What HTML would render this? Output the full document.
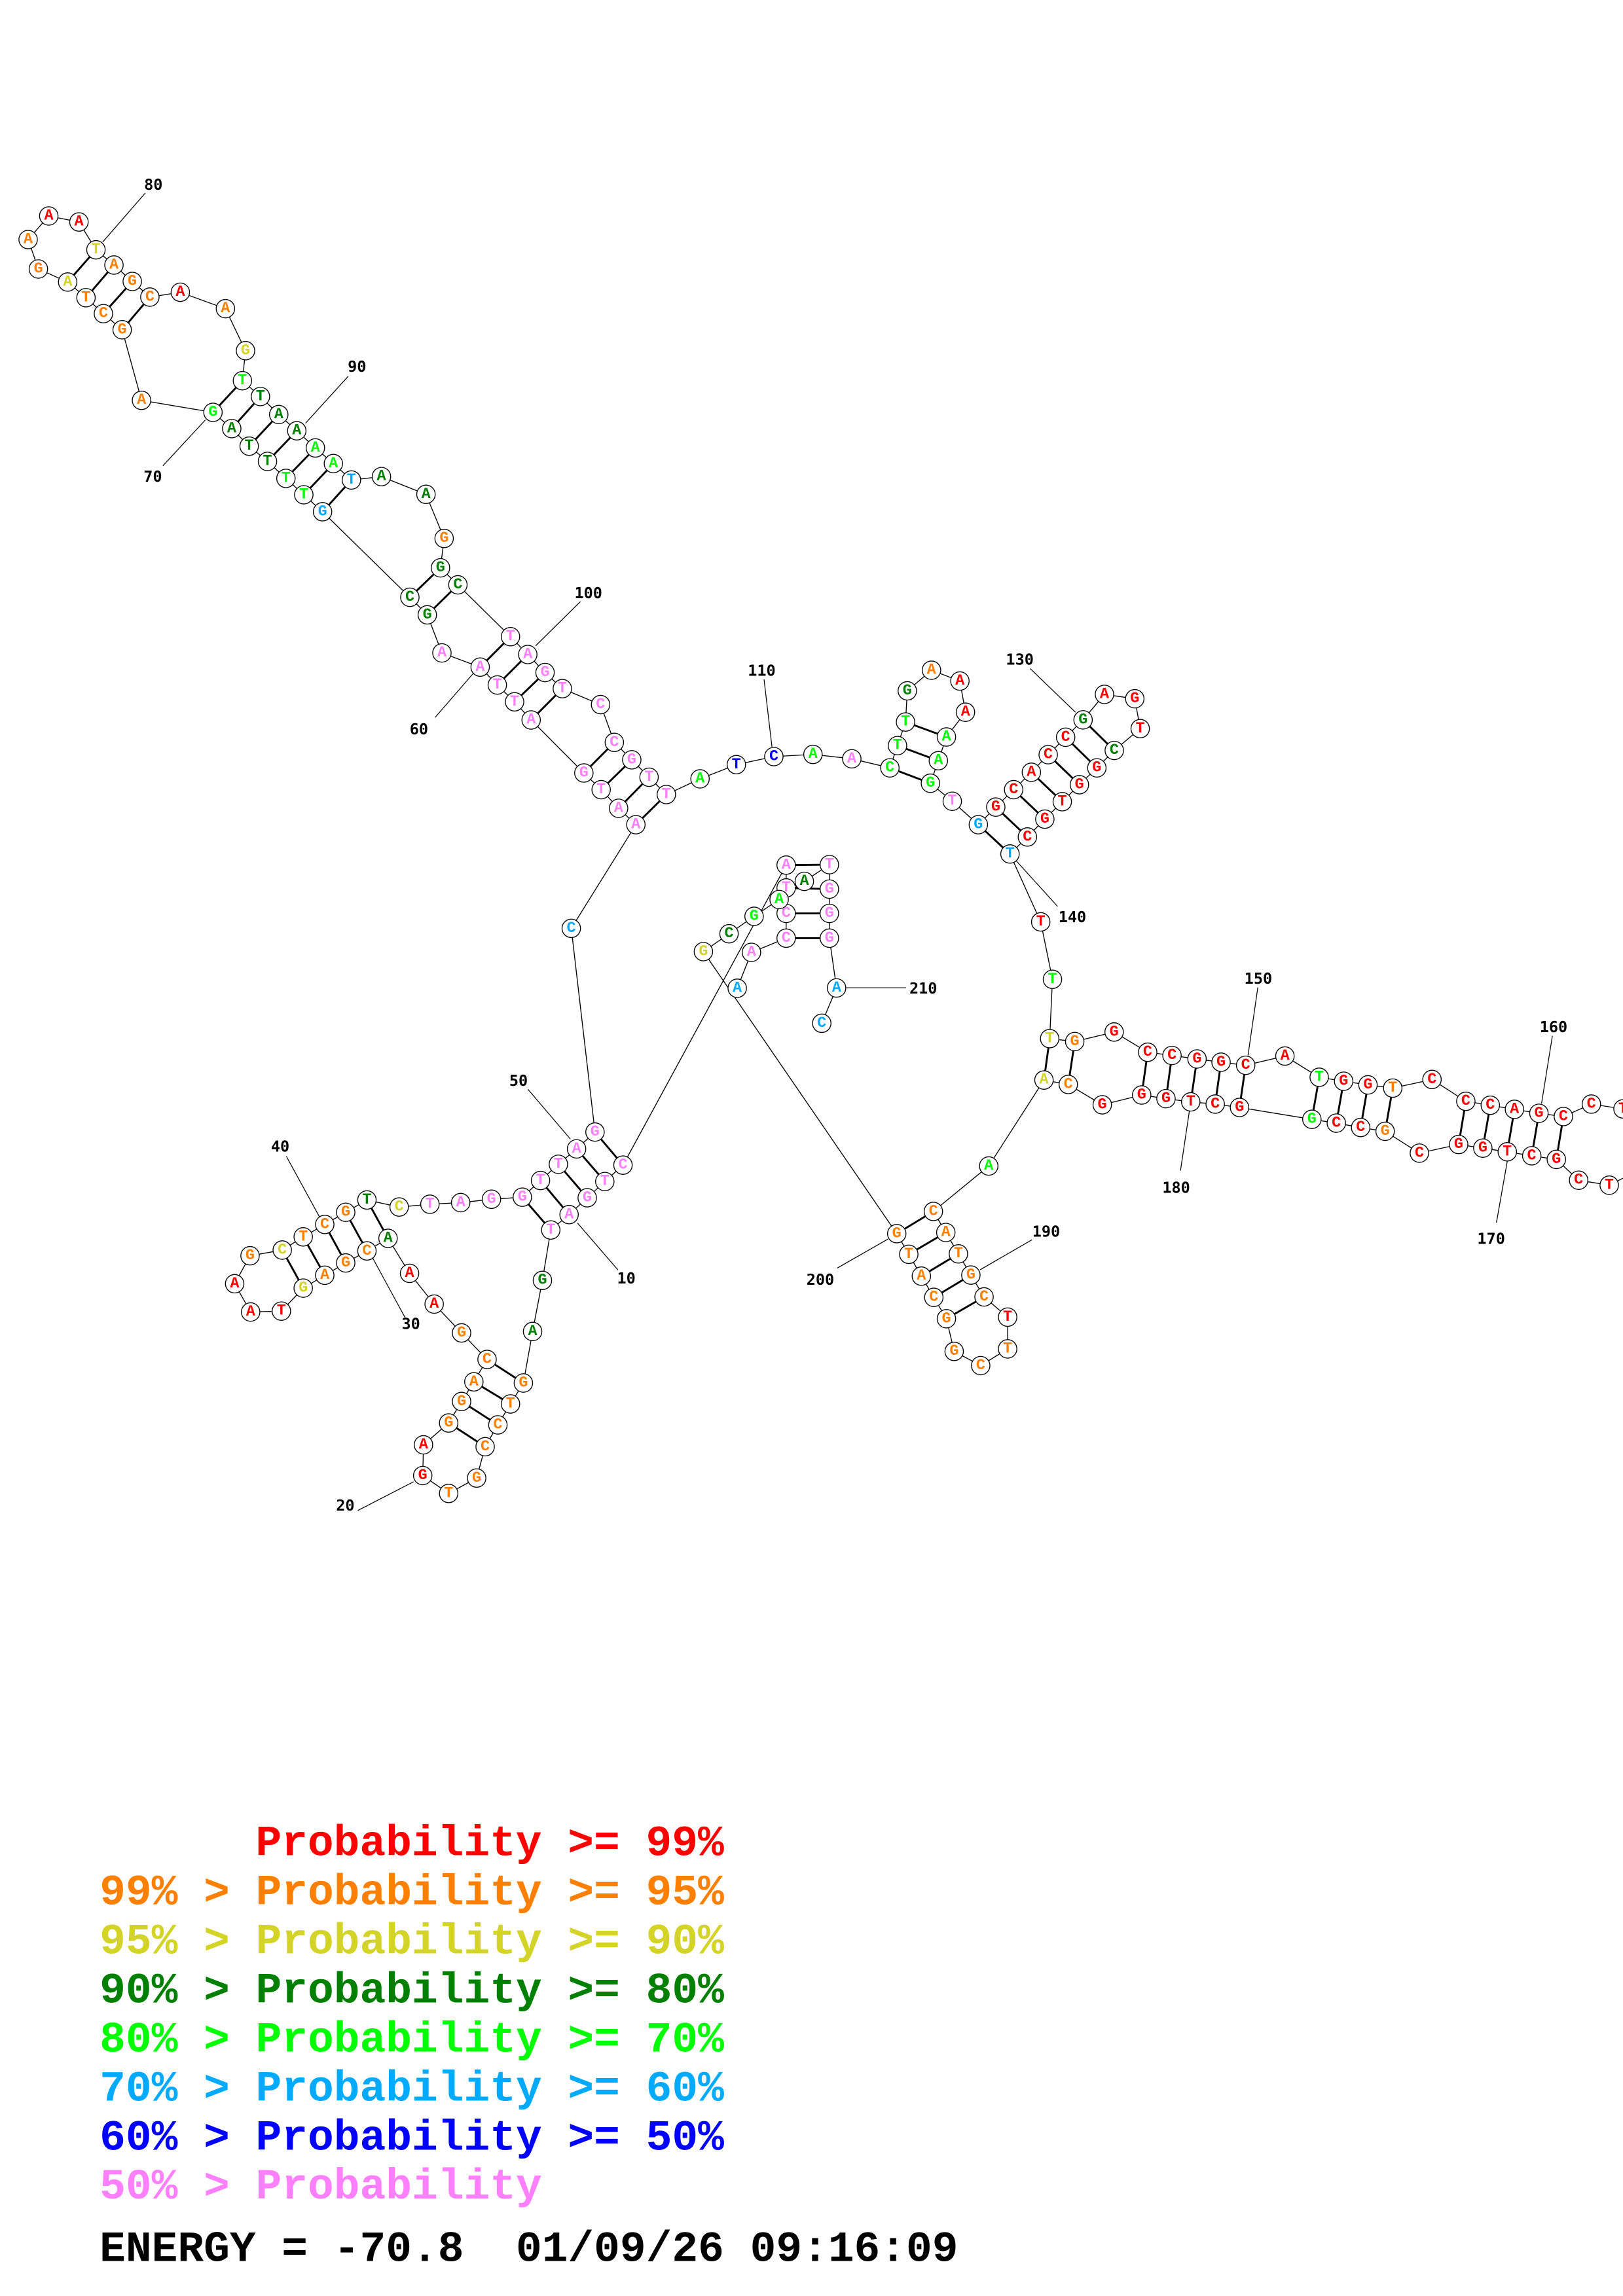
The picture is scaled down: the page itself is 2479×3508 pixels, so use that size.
<!DOCTYPE html>
<html><head><meta charset="utf-8">
<style>
html,body{margin:0;padding:0;background:#fff;overflow:hidden;}
svg{display:block;}
.bb{fill:none;stroke:#000;stroke-width:0.6;}
.pr line{stroke:#000;stroke-width:1.3;}
.lb line{stroke:#000;stroke-width:0.55;}
.nd circle{fill:#fff;stroke:#000;stroke-width:0.6;}
.nd text{font-family:"Liberation Mono",monospace;font-weight:bold;font-size:10.5px;text-anchor:middle;dominant-baseline:central;}
.lt{font-family:"DejaVu Sans Mono","Liberation Mono",monospace;font-weight:bold;font-size:10.5px;text-anchor:middle;dominant-baseline:central;fill:#000;}
.lg{font-family:"Liberation Mono",monospace;font-weight:bold;font-size:29.6px;}
.R{fill:#ff0000}.O{fill:#ff8000}.Y{fill:#d4d428}.D{fill:#008000}.G{fill:#00ff00}.B{fill:#00aaff}.N{fill:#0000ff}.P{fill:#ff80ff}.K{fill:#000}
</style></head><body>
<svg width="2479" height="3508" viewBox="0 0 1108 1568" preserveAspectRatio="none" xmlns="http://www.w3.org/2000/svg">
<rect width="1108" height="1568" fill="#fff"/>
<polyline class="bb" points="503.3,674.9 513,650.4 536.7,640.7 536.7,623.8 536.7,606.4 536.7,590.8 425.3,795.7 412.9,806.9 400.9,818 388.5,829.5 376,840 370.3,874.4 363.6,909.3 357.3,944.5 348.5,958.8 339.9,973.1 331.2,988 325.4,1009.4 306.3,1019.9 288.6,1007.7 289.1,986.7 306.3,971.8 315.1,957.1 323.5,943.7 332.5,928.4 315.1,910.3 296.4,890.6 279.6,869.6 264.9,845.7 250.5,854.3 236,862.5 221.7,870.9 207,879.7 192.1,895.4 171.1,896 160.2,876.7 170.7,857.6 192.7,853.7 207,844.7 221.7,836.2 236,827.9 250.5,819.5 272.5,824.3 293.5,822.4 314.5,821.3 335.5,819 356.6,817.6 369,806.2 381.2,795.1 393.6,784.6 406.2,773.1 390,634 434.1,563.2 422.3,552 410.4,539.3 398.6,527.9 362.6,491.7 351.3,479.3 339.5,467.8 327.8,455.6 301.7,445.9 291.7,419.9 279.8,407.9 220.2,349.5 207.4,337.9 195.2,326.7 182.6,315.1 170.1,304.7 158.2,292.7 145.4,281.6 96.6,273.4 83.4,225.2 70.6,214.2 58.7,203.3 46.2,192.6 26.2,183.7 19.2,163.6 33.3,147.5 53.9,151.6 65.5,170.6 77.8,181 90.3,192.2 102.3,202.9 123.1,199.6 153.9,210.8 167.6,239.5 165.5,260 177.8,270.8 190.3,283.1 202.6,294.2 215.3,305.9 227.6,316.6 239.9,327.8 260.4,325.5 290.8,337.6 303.2,367.7 300.7,387.8 312.6,399.4 348.5,434.8 360.3,447 372.1,459.3 383.9,470.3 410,481.2 419.4,507 431.3,518.9 443.1,530.8 454.9,542.6 477.9,531.9 502.7,522.2 528.3,516.7 555,515.2 581.5,518.2 607.5,524.4 612.7,509.2 618.2,493.1 619.4,471.8 635.9,457.7 655.3,465.1 659.1,486.4 646.1,503.3 640.6,519.5 635.2,534.9 650.1,547.2 667.9,563.2 679.8,551.2 692,539.3 704.1,527.4 715.6,515.4 727.5,503.5 739.4,491.6 754,474.2 774.7,477.2 778.4,497.6 760.7,512.5 748.8,524.4 736.9,535.9 725.2,547.5 713.3,559.4 701.4,571.6 689.5,583.2 710.5,629.6 718.5,668.8 716.6,709.3 733.7,711.3 760.6,704.8 783.5,718.6 800.1,720.8 817.2,723.2 833.6,725.4 850.4,727.5 877.2,721.2 900.6,735.7 917.3,738.4 933.9,740.9 950.8,743.1 977.6,737.2 1000.7,752.1 1017.4,754.8 1033.9,757.6 1050.6,760.3 1067.3,762.5 1086.4,754 1108,757.3 1125,772 1117,800 1098.6,809.4 1077.7,806 1062.5,791.8 1045.7,789.3 1029,786.6 1012.3,784.1 995.8,781.6 969,787.5 945.6,772.6 928.9,770 912.3,767 895.6,764.4 846.2,756.3 829.6,754 812.9,752.5 796,750.3 779.4,747.8 752.5,754.5 729.3,740.6 712.7,737.6 675,796.3 637.2,827.3 645.7,841.7 654.3,856.3 662.8,870.8 671.8,885.7 687.9,899.5 687.9,921.2 669.5,932.6 651.4,922.9 646.1,900.6 637.5,886 629,871.5 620.4,856.6 612.2,842.5 480.2,649.9 497.7,637.7 514.8,625.8 531.9,614.3 549.1,601.9 566.2,590.5 566.2,607.2 566.2,623.8 566.2,640.7 571.1,674.7 561,698.8"/>
<g class="pr">
<line x1="536.7" y1="640.7" x2="566.2" y2="640.7"/><line x1="536.7" y1="623.8" x2="566.2" y2="623.8"/><line x1="536.7" y1="606.4" x2="566.2" y2="607.2"/><line x1="536.7" y1="590.8" x2="566.2" y2="590.5"/>
<line x1="425.3" y1="795.7" x2="406.2" y2="773.1"/><line x1="412.9" y1="806.9" x2="393.6" y2="784.6"/><line x1="400.9" y1="818" x2="381.2" y2="795.1"/><line x1="388.5" y1="829.5" x2="369" y2="806.2"/><line x1="376" y1="840" x2="356.6" y2="817.6"/>
<line x1="357.3" y1="944.5" x2="332.5" y2="928.4"/><line x1="348.5" y1="958.8" x2="323.5" y2="943.7"/><line x1="339.9" y1="973.1" x2="315.1" y2="957.1"/><line x1="331.2" y1="988" x2="306.3" y2="971.8"/>
<line x1="264.9" y1="845.7" x2="250.5" y2="819.5"/><line x1="250.5" y1="854.3" x2="236" y2="827.9"/><line x1="236" y1="862.5" x2="221.7" y2="836.2"/><line x1="221.7" y1="870.9" x2="207" y2="844.7"/><line x1="207" y1="879.7" x2="192.7" y2="853.7"/>
<line x1="434.1" y1="563.2" x2="454.9" y2="542.6"/><line x1="422.3" y1="552" x2="443.1" y2="530.8"/><line x1="410.4" y1="539.3" x2="431.3" y2="518.9"/><line x1="398.6" y1="527.9" x2="419.4" y2="507"/>
<line x1="362.6" y1="491.7" x2="383.9" y2="470.3"/><line x1="351.3" y1="479.3" x2="372.1" y2="459.3"/><line x1="339.5" y1="467.8" x2="360.3" y2="447"/><line x1="327.8" y1="455.6" x2="348.5" y2="434.8"/>
<line x1="291.7" y1="419.9" x2="312.6" y2="399.4"/><line x1="279.8" y1="407.9" x2="300.7" y2="387.8"/>
<line x1="220.2" y1="349.5" x2="239.9" y2="327.8"/><line x1="207.4" y1="337.9" x2="227.6" y2="316.6"/><line x1="195.2" y1="326.7" x2="215.3" y2="305.9"/><line x1="182.6" y1="315.1" x2="202.6" y2="294.2"/><line x1="170.1" y1="304.7" x2="190.3" y2="283.1"/><line x1="158.2" y1="292.7" x2="177.8" y2="270.8"/><line x1="145.4" y1="281.6" x2="165.5" y2="260"/>
<line x1="83.4" y1="225.2" x2="102.3" y2="202.9"/><line x1="70.6" y1="214.2" x2="90.3" y2="192.2"/><line x1="58.7" y1="203.3" x2="77.8" y2="181"/><line x1="46.2" y1="192.6" x2="65.5" y2="170.6"/>
<line x1="607.5" y1="524.4" x2="635.2" y2="534.9"/><line x1="612.7" y1="509.2" x2="640.6" y2="519.5"/><line x1="618.2" y1="493.1" x2="646.1" y2="503.3"/>
<line x1="667.9" y1="563.2" x2="689.5" y2="583.2"/><line x1="679.8" y1="551.2" x2="701.4" y2="571.6"/><line x1="692" y1="539.3" x2="713.3" y2="559.4"/><line x1="704.1" y1="527.4" x2="725.2" y2="547.5"/><line x1="715.6" y1="515.4" x2="736.9" y2="535.9"/><line x1="727.5" y1="503.5" x2="748.8" y2="524.4"/><line x1="739.4" y1="491.6" x2="760.7" y2="512.5"/>
<line x1="716.6" y1="709.3" x2="712.7" y2="737.6"/><line x1="733.7" y1="711.3" x2="729.3" y2="740.6"/><line x1="783.5" y1="718.6" x2="779.4" y2="747.8"/><line x1="800.1" y1="720.8" x2="796" y2="750.3"/><line x1="817.2" y1="723.2" x2="812.9" y2="752.5"/><line x1="833.6" y1="725.4" x2="829.6" y2="754"/><line x1="850.4" y1="727.5" x2="846.2" y2="756.3"/>
<line x1="900.6" y1="735.7" x2="895.6" y2="764.4"/><line x1="917.3" y1="738.4" x2="912.3" y2="767"/><line x1="933.9" y1="740.9" x2="928.9" y2="770"/><line x1="950.8" y1="743.1" x2="945.6" y2="772.6"/>
<line x1="1000.7" y1="752.1" x2="995.8" y2="781.6"/><line x1="1017.4" y1="754.8" x2="1012.3" y2="784.1"/><line x1="1033.9" y1="757.6" x2="1029" y2="786.6"/><line x1="1050.6" y1="760.3" x2="1045.7" y2="789.3"/><line x1="1067.3" y1="762.5" x2="1062.5" y2="791.8"/>
<line x1="637.2" y1="827.3" x2="612.2" y2="842.5"/><line x1="645.7" y1="841.7" x2="620.4" y2="856.6"/><line x1="654.3" y1="856.3" x2="629" y2="871.5"/><line x1="662.8" y1="870.8" x2="637.5" y2="886"/><line x1="671.8" y1="885.7" x2="646.1" y2="900.6"/>
</g>
<g class="lb">
<line x1="394.2" y1="835.2" x2="421.9" y2="867.3"/>
<line x1="244.2" y1="1031.6" x2="282.4" y2="1011.9"/>
<line x1="254.4" y1="859.1" x2="276.7" y2="900.1"/>
<line x1="195.5" y1="789.7" x2="218.1" y2="831"/>
<line x1="360.4" y1="743.9" x2="389.4" y2="777.9"/>
<line x1="297" y1="490" x2="323" y2="460"/>
<line x1="111.2" y1="318.1" x2="140.2" y2="286.8"/>
<line x1="99.2" y1="131.8" x2="70.1" y2="165.3"/>
<line x1="237.7" y1="257" x2="208.6" y2="289"/>
<line x1="396.2" y1="410.9" x2="365.7" y2="441"/>
<line x1="521.6" y1="464" x2="527" y2="510"/>
<line x1="703.3" y1="456.6" x2="734.2" y2="486.4"/>
<line x1="689.5" y1="583.2" x2="722" y2="619"/>
<line x1="858.7" y1="674.3" x2="852" y2="720.8"/>
<line x1="1059.8" y1="707.4" x2="1052.4" y2="753.6"/>
<line x1="1029" y1="793" x2="1021.6" y2="835"/>
<line x1="812.9" y1="752.5" x2="805.9" y2="799.5"/>
<line x1="704.5" y1="846.7" x2="669.2" y2="867.1"/>
<line x1="571.6" y1="866" x2="606.2" y2="846.2"/>
<line x1="577.8" y1="674.6" x2="618.6" y2="674.6"/>
</g>
<g>
<text class="lt" x="427.6" y="873">10</text>
<text class="lt" x="235.7" y="1028">20</text>
<text class="lt" x="280.5" y="904">30</text>
<text class="lt" x="191.3" y="783">40</text>
<text class="lt" x="354" y="738">50</text>
<text class="lt" x="286" y="498">60</text>
<text class="lt" x="104.3" y="325.5">70</text>
<text class="lt" x="104.7" y="126">80</text>
<text class="lt" x="243.7" y="250.3">90</text>
<text class="lt" x="401.7" y="405">100</text>
<text class="lt" x="520" y="458">110</text>
<text class="lt" x="696.2" y="450.3">130</text>
<text class="lt" x="732.1" y="626.3">140</text>
<text class="lt" x="859" y="668.3">150</text>
<text class="lt" x="1060.6" y="701.4">160</text>
<text class="lt" x="1018" y="846">170</text>
<text class="lt" x="803" y="811">180</text>
<text class="lt" x="714.2" y="841">190</text>
<text class="lt" x="560" y="873.8">200</text>
<text class="lt" x="630.3" y="675">210</text>
</g>
<g class="nd">
<circle cx="503.3" cy="674.9" r="6.3"/><text x="503.3" y="674.9" class="B">A</text>
<circle cx="513" cy="650.4" r="6.3"/><text x="513" y="650.4" class="P">A</text>
<circle cx="536.7" cy="640.7" r="6.3"/><text x="536.7" y="640.7" class="P">C</text>
<circle cx="536.7" cy="623.8" r="6.3"/><text x="536.7" y="623.8" class="P">C</text>
<circle cx="536.7" cy="606.4" r="6.3"/><text x="536.7" y="606.4" class="P">T</text>
<circle cx="536.7" cy="590.8" r="6.3"/><text x="536.7" y="590.8" class="P">A</text>
<circle cx="425.3" cy="795.7" r="6.3"/><text x="425.3" y="795.7" class="P">C</text>
<circle cx="412.9" cy="806.9" r="6.3"/><text x="412.9" y="806.9" class="P">T</text>
<circle cx="400.9" cy="818" r="6.3"/><text x="400.9" y="818" class="P">G</text>
<circle cx="388.5" cy="829.5" r="6.3"/><text x="388.5" y="829.5" class="P">A</text>
<circle cx="376" cy="840" r="6.3"/><text x="376" y="840" class="P">T</text>
<circle cx="370.3" cy="874.4" r="6.3"/><text x="370.3" y="874.4" class="D">G</text>
<circle cx="363.6" cy="909.3" r="6.3"/><text x="363.6" y="909.3" class="D">A</text>
<circle cx="357.3" cy="944.5" r="6.3"/><text x="357.3" y="944.5" class="O">G</text>
<circle cx="348.5" cy="958.8" r="6.3"/><text x="348.5" y="958.8" class="O">T</text>
<circle cx="339.9" cy="973.1" r="6.3"/><text x="339.9" y="973.1" class="O">C</text>
<circle cx="331.2" cy="988" r="6.3"/><text x="331.2" y="988" class="O">C</text>
<circle cx="325.4" cy="1009.4" r="6.3"/><text x="325.4" y="1009.4" class="O">G</text>
<circle cx="306.3" cy="1019.9" r="6.3"/><text x="306.3" y="1019.9" class="O">T</text>
<circle cx="288.6" cy="1007.7" r="6.3"/><text x="288.6" y="1007.7" class="R">G</text>
<circle cx="289.1" cy="986.7" r="6.3"/><text x="289.1" y="986.7" class="R">A</text>
<circle cx="306.3" cy="971.8" r="6.3"/><text x="306.3" y="971.8" class="O">G</text>
<circle cx="315.1" cy="957.1" r="6.3"/><text x="315.1" y="957.1" class="O">G</text>
<circle cx="323.5" cy="943.7" r="6.3"/><text x="323.5" y="943.7" class="O">A</text>
<circle cx="332.5" cy="928.4" r="6.3"/><text x="332.5" y="928.4" class="O">C</text>
<circle cx="315.1" cy="910.3" r="6.3"/><text x="315.1" y="910.3" class="O">G</text>
<circle cx="296.4" cy="890.6" r="6.3"/><text x="296.4" y="890.6" class="R">A</text>
<circle cx="279.6" cy="869.6" r="6.3"/><text x="279.6" y="869.6" class="R">A</text>
<circle cx="264.9" cy="845.7" r="6.3"/><text x="264.9" y="845.7" class="D">A</text>
<circle cx="250.5" cy="854.3" r="6.3"/><text x="250.5" y="854.3" class="O">C</text>
<circle cx="236" cy="862.5" r="6.3"/><text x="236" y="862.5" class="O">G</text>
<circle cx="221.7" cy="870.9" r="6.3"/><text x="221.7" y="870.9" class="O">A</text>
<circle cx="207" cy="879.7" r="6.3"/><text x="207" y="879.7" class="Y">G</text>
<circle cx="192.1" cy="895.4" r="6.3"/><text x="192.1" y="895.4" class="R">T</text>
<circle cx="171.1" cy="896" r="6.3"/><text x="171.1" y="896" class="R">A</text>
<circle cx="160.2" cy="876.7" r="6.3"/><text x="160.2" y="876.7" class="R">A</text>
<circle cx="170.7" cy="857.6" r="6.3"/><text x="170.7" y="857.6" class="O">G</text>
<circle cx="192.7" cy="853.7" r="6.3"/><text x="192.7" y="853.7" class="Y">C</text>
<circle cx="207" cy="844.7" r="6.3"/><text x="207" y="844.7" class="O">T</text>
<circle cx="221.7" cy="836.2" r="6.3"/><text x="221.7" y="836.2" class="O">C</text>
<circle cx="236" cy="827.9" r="6.3"/><text x="236" y="827.9" class="O">G</text>
<circle cx="250.5" cy="819.5" r="6.3"/><text x="250.5" y="819.5" class="D">T</text>
<circle cx="272.5" cy="824.3" r="6.3"/><text x="272.5" y="824.3" class="Y">C</text>
<circle cx="293.5" cy="822.4" r="6.3"/><text x="293.5" y="822.4" class="P">T</text>
<circle cx="314.5" cy="821.3" r="6.3"/><text x="314.5" y="821.3" class="P">A</text>
<circle cx="335.5" cy="819" r="6.3"/><text x="335.5" y="819" class="P">G</text>
<circle cx="356.6" cy="817.6" r="6.3"/><text x="356.6" y="817.6" class="P">G</text>
<circle cx="369" cy="806.2" r="6.3"/><text x="369" y="806.2" class="P">T</text>
<circle cx="381.2" cy="795.1" r="6.3"/><text x="381.2" y="795.1" class="P">T</text>
<circle cx="393.6" cy="784.6" r="6.3"/><text x="393.6" y="784.6" class="P">A</text>
<circle cx="406.2" cy="773.1" r="6.3"/><text x="406.2" y="773.1" class="P">G</text>
<circle cx="390" cy="634" r="6.3"/><text x="390" y="634" class="B">C</text>
<circle cx="434.1" cy="563.2" r="6.3"/><text x="434.1" y="563.2" class="P">A</text>
<circle cx="422.3" cy="552" r="6.3"/><text x="422.3" y="552" class="P">A</text>
<circle cx="410.4" cy="539.3" r="6.3"/><text x="410.4" y="539.3" class="P">T</text>
<circle cx="398.6" cy="527.9" r="6.3"/><text x="398.6" y="527.9" class="P">G</text>
<circle cx="362.6" cy="491.7" r="6.3"/><text x="362.6" y="491.7" class="P">A</text>
<circle cx="351.3" cy="479.3" r="6.3"/><text x="351.3" y="479.3" class="P">T</text>
<circle cx="339.5" cy="467.8" r="6.3"/><text x="339.5" y="467.8" class="P">T</text>
<circle cx="327.8" cy="455.6" r="6.3"/><text x="327.8" y="455.6" class="P">A</text>
<circle cx="301.7" cy="445.9" r="6.3"/><text x="301.7" y="445.9" class="P">A</text>
<circle cx="291.7" cy="419.9" r="6.3"/><text x="291.7" y="419.9" class="D">G</text>
<circle cx="279.8" cy="407.9" r="6.3"/><text x="279.8" y="407.9" class="D">C</text>
<circle cx="220.2" cy="349.5" r="6.3"/><text x="220.2" y="349.5" class="B">G</text>
<circle cx="207.4" cy="337.9" r="6.3"/><text x="207.4" y="337.9" class="G">T</text>
<circle cx="195.2" cy="326.7" r="6.3"/><text x="195.2" y="326.7" class="G">T</text>
<circle cx="182.6" cy="315.1" r="6.3"/><text x="182.6" y="315.1" class="D">T</text>
<circle cx="170.1" cy="304.7" r="6.3"/><text x="170.1" y="304.7" class="D">T</text>
<circle cx="158.2" cy="292.7" r="6.3"/><text x="158.2" y="292.7" class="D">A</text>
<circle cx="145.4" cy="281.6" r="6.3"/><text x="145.4" y="281.6" class="G">G</text>
<circle cx="96.6" cy="273.4" r="6.3"/><text x="96.6" y="273.4" class="O">A</text>
<circle cx="83.4" cy="225.2" r="6.3"/><text x="83.4" y="225.2" class="O">G</text>
<circle cx="70.6" cy="214.2" r="6.3"/><text x="70.6" y="214.2" class="O">C</text>
<circle cx="58.7" cy="203.3" r="6.3"/><text x="58.7" y="203.3" class="O">T</text>
<circle cx="46.2" cy="192.6" r="6.3"/><text x="46.2" y="192.6" class="Y">A</text>
<circle cx="26.2" cy="183.7" r="6.3"/><text x="26.2" y="183.7" class="O">G</text>
<circle cx="19.2" cy="163.6" r="6.3"/><text x="19.2" y="163.6" class="O">A</text>
<circle cx="33.3" cy="147.5" r="6.3"/><text x="33.3" y="147.5" class="R">A</text>
<circle cx="53.9" cy="151.6" r="6.3"/><text x="53.9" y="151.6" class="R">A</text>
<circle cx="65.5" cy="170.6" r="6.3"/><text x="65.5" y="170.6" class="Y">T</text>
<circle cx="77.8" cy="181" r="6.3"/><text x="77.8" y="181" class="O">A</text>
<circle cx="90.3" cy="192.2" r="6.3"/><text x="90.3" y="192.2" class="O">G</text>
<circle cx="102.3" cy="202.9" r="6.3"/><text x="102.3" y="202.9" class="O">C</text>
<circle cx="123.1" cy="199.6" r="6.3"/><text x="123.1" y="199.6" class="R">A</text>
<circle cx="153.9" cy="210.8" r="6.3"/><text x="153.9" y="210.8" class="O">A</text>
<circle cx="167.6" cy="239.5" r="6.3"/><text x="167.6" y="239.5" class="Y">G</text>
<circle cx="165.5" cy="260" r="6.3"/><text x="165.5" y="260" class="G">T</text>
<circle cx="177.8" cy="270.8" r="6.3"/><text x="177.8" y="270.8" class="D">T</text>
<circle cx="190.3" cy="283.1" r="6.3"/><text x="190.3" y="283.1" class="D">A</text>
<circle cx="202.6" cy="294.2" r="6.3"/><text x="202.6" y="294.2" class="D">A</text>
<circle cx="215.3" cy="305.9" r="6.3"/><text x="215.3" y="305.9" class="G">A</text>
<circle cx="227.6" cy="316.6" r="6.3"/><text x="227.6" y="316.6" class="G">A</text>
<circle cx="239.9" cy="327.8" r="6.3"/><text x="239.9" y="327.8" class="B">T</text>
<circle cx="260.4" cy="325.5" r="6.3"/><text x="260.4" y="325.5" class="D">A</text>
<circle cx="290.8" cy="337.6" r="6.3"/><text x="290.8" y="337.6" class="D">A</text>
<circle cx="303.2" cy="367.7" r="6.3"/><text x="303.2" y="367.7" class="O">G</text>
<circle cx="300.7" cy="387.8" r="6.3"/><text x="300.7" y="387.8" class="D">G</text>
<circle cx="312.6" cy="399.4" r="6.3"/><text x="312.6" y="399.4" class="D">C</text>
<circle cx="348.5" cy="434.8" r="6.3"/><text x="348.5" y="434.8" class="P">T</text>
<circle cx="360.3" cy="447" r="6.3"/><text x="360.3" y="447" class="P">A</text>
<circle cx="372.1" cy="459.3" r="6.3"/><text x="372.1" y="459.3" class="P">G</text>
<circle cx="383.9" cy="470.3" r="6.3"/><text x="383.9" y="470.3" class="P">T</text>
<circle cx="410" cy="481.2" r="6.3"/><text x="410" y="481.2" class="P">C</text>
<circle cx="419.4" cy="507" r="6.3"/><text x="419.4" y="507" class="P">C</text>
<circle cx="431.3" cy="518.9" r="6.3"/><text x="431.3" y="518.9" class="P">G</text>
<circle cx="443.1" cy="530.8" r="6.3"/><text x="443.1" y="530.8" class="P">T</text>
<circle cx="454.9" cy="542.6" r="6.3"/><text x="454.9" y="542.6" class="P">T</text>
<circle cx="477.9" cy="531.9" r="6.3"/><text x="477.9" y="531.9" class="G">A</text>
<circle cx="502.7" cy="522.2" r="6.3"/><text x="502.7" y="522.2" class="N">T</text>
<circle cx="528.3" cy="516.7" r="6.3"/><text x="528.3" y="516.7" class="N">C</text>
<circle cx="555" cy="515.2" r="6.3"/><text x="555" y="515.2" class="G">A</text>
<circle cx="581.5" cy="518.2" r="6.3"/><text x="581.5" y="518.2" class="P">A</text>
<circle cx="607.5" cy="524.4" r="6.3"/><text x="607.5" y="524.4" class="G">C</text>
<circle cx="612.7" cy="509.2" r="6.3"/><text x="612.7" y="509.2" class="G">T</text>
<circle cx="618.2" cy="493.1" r="6.3"/><text x="618.2" y="493.1" class="G">T</text>
<circle cx="619.4" cy="471.8" r="6.3"/><text x="619.4" y="471.8" class="D">G</text>
<circle cx="635.9" cy="457.7" r="6.3"/><text x="635.9" y="457.7" class="O">A</text>
<circle cx="655.3" cy="465.1" r="6.3"/><text x="655.3" y="465.1" class="R">A</text>
<circle cx="659.1" cy="486.4" r="6.3"/><text x="659.1" y="486.4" class="R">A</text>
<circle cx="646.1" cy="503.3" r="6.3"/><text x="646.1" y="503.3" class="G">A</text>
<circle cx="640.6" cy="519.5" r="6.3"/><text x="640.6" y="519.5" class="G">A</text>
<circle cx="635.2" cy="534.9" r="6.3"/><text x="635.2" y="534.9" class="G">G</text>
<circle cx="650.1" cy="547.2" r="6.3"/><text x="650.1" y="547.2" class="P">T</text>
<circle cx="667.9" cy="563.2" r="6.3"/><text x="667.9" y="563.2" class="B">G</text>
<circle cx="679.8" cy="551.2" r="6.3"/><text x="679.8" y="551.2" class="R">G</text>
<circle cx="692" cy="539.3" r="6.3"/><text x="692" y="539.3" class="R">C</text>
<circle cx="704.1" cy="527.4" r="6.3"/><text x="704.1" y="527.4" class="R">A</text>
<circle cx="715.6" cy="515.4" r="6.3"/><text x="715.6" y="515.4" class="R">C</text>
<circle cx="727.5" cy="503.5" r="6.3"/><text x="727.5" y="503.5" class="R">C</text>
<circle cx="739.4" cy="491.6" r="6.3"/><text x="739.4" y="491.6" class="D">G</text>
<circle cx="754" cy="474.2" r="6.3"/><text x="754" y="474.2" class="R">A</text>
<circle cx="774.7" cy="477.2" r="6.3"/><text x="774.7" y="477.2" class="R">G</text>
<circle cx="778.4" cy="497.6" r="6.3"/><text x="778.4" y="497.6" class="R">T</text>
<circle cx="760.7" cy="512.5" r="6.3"/><text x="760.7" y="512.5" class="D">C</text>
<circle cx="748.8" cy="524.4" r="6.3"/><text x="748.8" y="524.4" class="R">G</text>
<circle cx="736.9" cy="535.9" r="6.3"/><text x="736.9" y="535.9" class="R">G</text>
<circle cx="725.2" cy="547.5" r="6.3"/><text x="725.2" y="547.5" class="R">T</text>
<circle cx="713.3" cy="559.4" r="6.3"/><text x="713.3" y="559.4" class="R">G</text>
<circle cx="701.4" cy="571.6" r="6.3"/><text x="701.4" y="571.6" class="R">C</text>
<circle cx="689.5" cy="583.2" r="6.3"/><text x="689.5" y="583.2" class="B">T</text>
<circle cx="710.5" cy="629.6" r="6.3"/><text x="710.5" y="629.6" class="R">T</text>
<circle cx="718.5" cy="668.8" r="6.3"/><text x="718.5" y="668.8" class="G">T</text>
<circle cx="716.6" cy="709.3" r="6.3"/><text x="716.6" y="709.3" class="Y">T</text>
<circle cx="733.7" cy="711.3" r="6.3"/><text x="733.7" y="711.3" class="O">G</text>
<circle cx="760.6" cy="704.8" r="6.3"/><text x="760.6" y="704.8" class="R">G</text>
<circle cx="783.5" cy="718.6" r="6.3"/><text x="783.5" y="718.6" class="R">C</text>
<circle cx="800.1" cy="720.8" r="6.3"/><text x="800.1" y="720.8" class="R">C</text>
<circle cx="817.2" cy="723.2" r="6.3"/><text x="817.2" y="723.2" class="R">G</text>
<circle cx="833.6" cy="725.4" r="6.3"/><text x="833.6" y="725.4" class="R">G</text>
<circle cx="850.4" cy="727.5" r="6.3"/><text x="850.4" y="727.5" class="R">C</text>
<circle cx="877.2" cy="721.2" r="6.3"/><text x="877.2" y="721.2" class="R">A</text>
<circle cx="900.6" cy="735.7" r="6.3"/><text x="900.6" y="735.7" class="G">T</text>
<circle cx="917.3" cy="738.4" r="6.3"/><text x="917.3" y="738.4" class="R">G</text>
<circle cx="933.9" cy="740.9" r="6.3"/><text x="933.9" y="740.9" class="R">G</text>
<circle cx="950.8" cy="743.1" r="6.3"/><text x="950.8" y="743.1" class="O">T</text>
<circle cx="977.6" cy="737.2" r="6.3"/><text x="977.6" y="737.2" class="R">C</text>
<circle cx="1000.7" cy="752.1" r="6.3"/><text x="1000.7" y="752.1" class="R">C</text>
<circle cx="1017.4" cy="754.8" r="6.3"/><text x="1017.4" y="754.8" class="R">C</text>
<circle cx="1033.9" cy="757.6" r="6.3"/><text x="1033.9" y="757.6" class="R">A</text>
<circle cx="1050.6" cy="760.3" r="6.3"/><text x="1050.6" y="760.3" class="R">G</text>
<circle cx="1067.3" cy="762.5" r="6.3"/><text x="1067.3" y="762.5" class="R">C</text>
<circle cx="1086.4" cy="754" r="6.3"/><text x="1086.4" y="754" class="R">C</text>
<circle cx="1108" cy="757.3" r="6.3"/><text x="1108" y="757.3" class="R">T</text>
<circle cx="1098.6" cy="809.4" r="6.3"/><text x="1098.6" y="809.4" class="R">T</text>
<circle cx="1077.7" cy="806" r="6.3"/><text x="1077.7" y="806" class="R">C</text>
<circle cx="1062.5" cy="791.8" r="6.3"/><text x="1062.5" y="791.8" class="R">G</text>
<circle cx="1045.7" cy="789.3" r="6.3"/><text x="1045.7" y="789.3" class="R">C</text>
<circle cx="1029" cy="786.6" r="6.3"/><text x="1029" y="786.6" class="R">T</text>
<circle cx="1012.3" cy="784.1" r="6.3"/><text x="1012.3" y="784.1" class="R">G</text>
<circle cx="995.8" cy="781.6" r="6.3"/><text x="995.8" y="781.6" class="R">G</text>
<circle cx="969" cy="787.5" r="6.3"/><text x="969" y="787.5" class="R">C</text>
<circle cx="945.6" cy="772.6" r="6.3"/><text x="945.6" y="772.6" class="O">G</text>
<circle cx="928.9" cy="770" r="6.3"/><text x="928.9" y="770" class="R">C</text>
<circle cx="912.3" cy="767" r="6.3"/><text x="912.3" y="767" class="R">C</text>
<circle cx="895.6" cy="764.4" r="6.3"/><text x="895.6" y="764.4" class="G">G</text>
<circle cx="846.2" cy="756.3" r="6.3"/><text x="846.2" y="756.3" class="R">G</text>
<circle cx="829.6" cy="754" r="6.3"/><text x="829.6" y="754" class="R">C</text>
<circle cx="812.9" cy="752.5" r="6.3"/><text x="812.9" y="752.5" class="R">T</text>
<circle cx="796" cy="750.3" r="6.3"/><text x="796" y="750.3" class="R">G</text>
<circle cx="779.4" cy="747.8" r="6.3"/><text x="779.4" y="747.8" class="R">G</text>
<circle cx="752.5" cy="754.5" r="6.3"/><text x="752.5" y="754.5" class="R">G</text>
<circle cx="729.3" cy="740.6" r="6.3"/><text x="729.3" y="740.6" class="O">C</text>
<circle cx="712.7" cy="737.6" r="6.3"/><text x="712.7" y="737.6" class="Y">A</text>
<circle cx="675" cy="796.3" r="6.3"/><text x="675" y="796.3" class="G">A</text>
<circle cx="637.2" cy="827.3" r="6.3"/><text x="637.2" y="827.3" class="O">C</text>
<circle cx="645.7" cy="841.7" r="6.3"/><text x="645.7" y="841.7" class="O">A</text>
<circle cx="654.3" cy="856.3" r="6.3"/><text x="654.3" y="856.3" class="O">T</text>
<circle cx="662.8" cy="870.8" r="6.3"/><text x="662.8" y="870.8" class="O">G</text>
<circle cx="671.8" cy="885.7" r="6.3"/><text x="671.8" y="885.7" class="O">C</text>
<circle cx="687.9" cy="899.5" r="6.3"/><text x="687.9" y="899.5" class="R">T</text>
<circle cx="687.9" cy="921.2" r="6.3"/><text x="687.9" y="921.2" class="O">T</text>
<circle cx="669.5" cy="932.6" r="6.3"/><text x="669.5" y="932.6" class="O">C</text>
<circle cx="651.4" cy="922.9" r="6.3"/><text x="651.4" y="922.9" class="O">G</text>
<circle cx="646.1" cy="900.6" r="6.3"/><text x="646.1" y="900.6" class="O">G</text>
<circle cx="637.5" cy="886" r="6.3"/><text x="637.5" y="886" class="O">C</text>
<circle cx="629" cy="871.5" r="6.3"/><text x="629" y="871.5" class="O">A</text>
<circle cx="620.4" cy="856.6" r="6.3"/><text x="620.4" y="856.6" class="O">T</text>
<circle cx="612.2" cy="842.5" r="6.3"/><text x="612.2" y="842.5" class="O">G</text>
<circle cx="480.2" cy="649.9" r="6.3"/><text x="480.2" y="649.9" class="Y">G</text>
<circle cx="497.7" cy="637.7" r="6.3"/><text x="497.7" y="637.7" class="D">C</text>
<circle cx="514.8" cy="625.8" r="6.3"/><text x="514.8" y="625.8" class="G">G</text>
<circle cx="531.9" cy="614.3" r="6.3"/><text x="531.9" y="614.3" class="G">A</text>
<circle cx="549.1" cy="601.9" r="6.3"/><text x="549.1" y="601.9" class="D">A</text>
<circle cx="566.2" cy="590.5" r="6.3"/><text x="566.2" y="590.5" class="P">T</text>
<circle cx="566.2" cy="607.2" r="6.3"/><text x="566.2" y="607.2" class="P">G</text>
<circle cx="566.2" cy="623.8" r="6.3"/><text x="566.2" y="623.8" class="P">G</text>
<circle cx="566.2" cy="640.7" r="6.3"/><text x="566.2" y="640.7" class="P">G</text>
<circle cx="571.1" cy="674.7" r="6.3"/><text x="571.1" y="674.7" class="B">A</text>
<circle cx="561" cy="698.8" r="6.3"/><text x="561" y="698.8" class="B">C</text>
</g>
<g class="lg">
<text x="174.5" y="1267" class="R" xml:space="preserve">Probability &gt;= 99%</text>
<text x="68" y="1300.5" class="O" xml:space="preserve">99% &gt; Probability &gt;= 95%</text>
<text x="68" y="1334" class="Y" xml:space="preserve">95% &gt; Probability &gt;= 90%</text>
<text x="68" y="1367.5" class="D" xml:space="preserve">90% &gt; Probability &gt;= 80%</text>
<text x="68" y="1401" class="G" xml:space="preserve">80% &gt; Probability &gt;= 70%</text>
<text x="68" y="1434.5" class="B" xml:space="preserve">70% &gt; Probability &gt;= 60%</text>
<text x="68" y="1468" class="N" xml:space="preserve">60% &gt; Probability &gt;= 50%</text>
<text x="68" y="1501.5" class="P" xml:space="preserve">50% &gt; Probability</text>
<text x="68" y="1544" class="K" xml:space="preserve">ENERGY = -70.8  01/09/26 09:16:09</text>
</g>
</svg>
</body></html>
